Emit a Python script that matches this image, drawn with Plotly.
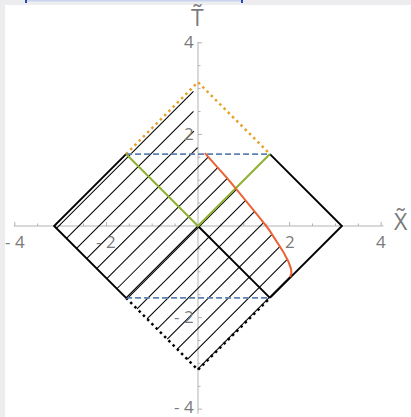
import numpy as np
import plotly.graph_objects as go

PI = np.pi

# ---------------- data ----------------
x_major = [-4, -2, 2, 4]
x_major_labels = ["- 4", "- 2", "2", "4"]
y_major = [-4, -2, 2, 4]
y_major_labels = ["- 4", "- 2", "2", "4"]
minor_ticks = [-3.5, -3, -2.5, -1.5, -1, -0.5, 0.5, 1, 1.5, 2.5, 3, 3.5]

# orange (boundary) trajectory
curve_x = [0.15, 0.40, 0.65, 0.90, 1.15, 1.38, 1.55, 1.72, 1.86, 1.97, 2.03, 2.04, 2.01]
curve_t = [1.59, 1.32, 1.03, 0.73, 0.43, 0.14, -0.08, -0.33, -0.56, -0.77, -0.93, -1.03, -1.11]

# upper part of the right boundary of the hatched region
top_bound_x = [-0.1, -0.1, -0.06]
top_bound_t = [3.1, 2.2, 1.75]

# hatch line offsets (x - t = c)
hatch_first = -PI + 0.10
hatch_step = 0.44

AX_COLOR = "#b3b3b3"
LBL_COLOR = "#7a7a7a"
BLACK = "#000000"
BLUE = "#5E81B5"
ORANGE = "#E5A12A"
GREEN = "#8FB032"
RED = "#EB6235"

fig = go.Figure()

def seg(xs, ts, color, width, dash="solid"):
    fig.add_trace(go.Scatter(x=xs, y=ts, mode="lines",
                             line=dict(color=color, width=width, dash=dash),
                             hoverinfo="skip", showlegend=False))

# ---------------- axes ----------------
seg([-4.02, 4.05], [0, 0], AX_COLOR, 1)
seg([0, 0], [-4.1, 4.02], AX_COLOR, 1)
tx, ty = [], []
for v in x_major:
    tx += [v, v, None]; ty += [0, 0.09, None]
for v in minor_ticks:
    tx += [v, v, None]; ty += [0, 0.055, None]
seg(tx, ty, AX_COLOR, 1)
tx, ty = [], []
for v in y_major:
    tx += [0, 0.09, None]; ty += [v, v, None]
for v in minor_ticks:
    tx += [0, 0.055, None]; ty += [v, v, None]
seg(tx, ty, AX_COLOR, 1)

# ---------------- hatching ----------------
bx = top_bound_x + curve_x
bt = top_bound_t + curve_t
hx, ht = [], []
c = hatch_first
while c < PI:
    x0 = (c - PI) / 2
    t0 = -(c + PI) / 2
    end = None
    for i in range(len(bx) - 1):
        g1 = bx[i] - bt[i] - c
        g2 = bx[i + 1] - bt[i + 1] - c
        if g1 == 0:
            end = (bx[i], bt[i]); break
        if g1 * g2 < 0:
            f = g1 / (g1 - g2)
            end = (bx[i] + f * (bx[i + 1] - bx[i]), bt[i] + f * (bt[i + 1] - bt[i]))
            break
    if end is not None:
        hx += [x0, end[0], None]
        ht += [t0, end[1], None]
    c += hatch_step
seg(hx, ht, BLACK, 1.05)

# ---------------- diagram lines ----------------
h = PI / 2
seg([-h, 0, h], [h, PI, h], ORANGE, 2.5, "2.5px,3.5px")
seg([-h, 0, h], [-h, -PI, -h], BLACK, 2.5, "2.5px,3.5px")
seg([-h, h], [h, h], BLUE, 1.7, "6px,3px")
seg([-h, h], [-h, -h], BLUE, 1.7, "6px,3px")
seg([-h, -PI, -h], [h, 0, -h], BLACK, 1.9)
seg([h, PI, h], [h, 0, -h], BLACK, 1.9)
seg([0, h], [0, -h], BLACK, 1.9)
seg([0, -h], [0, -h], BLACK, 1.2)
seg([-h, 0, h], [h, 0, h], GREEN, 2)
seg(curve_x, curve_t, RED, 2)

# ---------------- labels ----------------
font = "Open Sans, Liberation Sans, sans-serif"
anns = []
for v, s in zip(x_major, x_major_labels):
    anns.append(dict(x=v, y=0, text=s, showarrow=False, yshift=-15,
                     font=dict(size=17, color=LBL_COLOR, family=font)))
for v, s in zip(y_major, y_major_labels):
    anns.append(dict(x=0, y=v, text=s, showarrow=False, xanchor="right", xshift=-3,
                     yshift=1 if v > -4 else 3, borderpad=0,
                     font=dict(size=17, color=LBL_COLOR, family=font)))
anns.append(dict(x=4.44, y=0, text="X\u0303", showarrow=False, yshift=5,
                 font=dict(size=23, color=LBL_COLOR, family=font)))
anns.append(dict(x=0, y=4.56, text="T\u0303", showarrow=False, xshift=-1,
                 font=dict(size=23, color=LBL_COLOR, family=font)))

W, H = 411, 417
shapes = [
    dict(type="rect", xref="paper", yref="paper", x0=0, x1=5 / W, y0=0, y1=1,
         fillcolor="#ededf0", line=dict(width=0), layer="below"),
    dict(type="rect", xref="paper", yref="paper", x0=0, x1=1, y0=1 - 5 / H, y1=1,
         fillcolor="#ededf0", line=dict(width=0), layer="below"),
    dict(type="line", xref="paper", yref="paper", x0=26 / W, x1=242 / W, y0=1 - 0.8 / H, y1=1 - 0.8 / H,
         line=dict(color="#c9d5ee", width=1.5)),
    dict(type="line", xref="paper", yref="paper", x0=26 / W, x1=26 / W, y0=1, y1=1 - 3 / H,
         line=dict(color="#2848b0", width=2)),
    dict(type="line", xref="paper", yref="paper", x0=242 / W, x1=242 / W, y0=1, y1=1 - 3 / H,
         line=dict(color="#2848b0", width=2)),
]

fig.update_layout(
    width=W, height=H, margin=dict(l=0, r=0, t=0, b=0),
    paper_bgcolor="white", plot_bgcolor="white",
    xaxis=dict(range=[-198 / 45.8, 213 / 45.8], visible=False, fixedrange=True),
    yaxis=dict(range=[-191 / 45.8, 226 / 45.8], visible=False, fixedrange=True),
    annotations=anns, shapes=shapes, showlegend=False,
)

fig.write_html("out.html")
